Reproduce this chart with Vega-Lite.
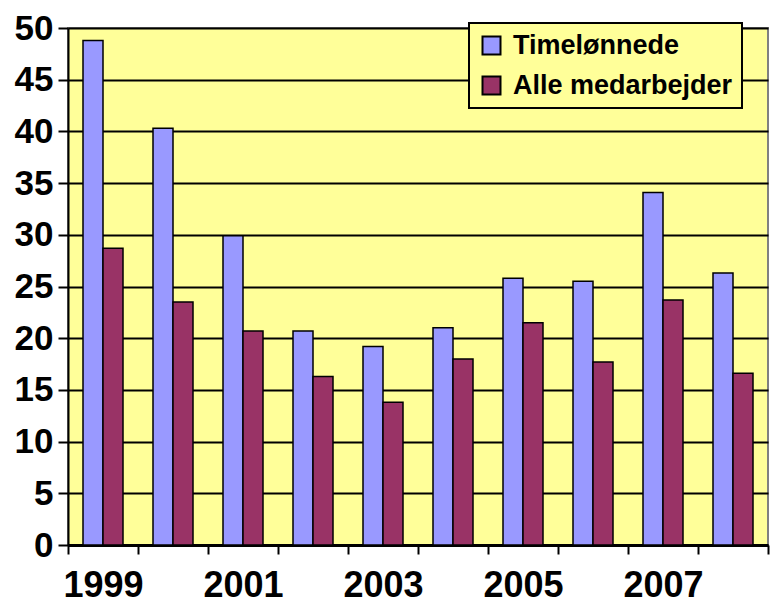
{
  "$schema": "https://vega.github.io/schema/vega-lite/v6.json",
  "width": 700,
  "height": 517,
  "autosize": {"type": "none"},
  "padding": {"left": 68, "top": 28, "right": 3, "bottom": 58},
  "background": "white",
  "config": {
    "font": "Liberation Sans",
    "view": {"fill": "#FFFF99", "stroke": "#808080", "strokeWidth": 2}
  },
  "data": {
    "values": [
      {"year": "1999", "series": "Timelønnede", "value": 48.8},
      {"year": "1999", "series": "Alle medarbejder", "value": 28.7},
      {"year": "2000", "series": "Timelønnede", "value": 40.3},
      {"year": "2000", "series": "Alle medarbejder", "value": 23.5},
      {"year": "2001", "series": "Timelønnede", "value": 29.9},
      {"year": "2001", "series": "Alle medarbejder", "value": 20.7},
      {"year": "2002", "series": "Timelønnede", "value": 20.7},
      {"year": "2002", "series": "Alle medarbejder", "value": 16.3},
      {"year": "2003", "series": "Timelønnede", "value": 19.2},
      {"year": "2003", "series": "Alle medarbejder", "value": 13.8},
      {"year": "2004", "series": "Timelønnede", "value": 21.0},
      {"year": "2004", "series": "Alle medarbejder", "value": 18.0},
      {"year": "2005", "series": "Timelønnede", "value": 25.8},
      {"year": "2005", "series": "Alle medarbejder", "value": 21.5},
      {"year": "2006", "series": "Timelønnede", "value": 25.5},
      {"year": "2006", "series": "Alle medarbejder", "value": 17.7},
      {"year": "2007", "series": "Timelønnede", "value": 34.1},
      {"year": "2007", "series": "Alle medarbejder", "value": 23.7},
      {"year": "2008", "series": "Timelønnede", "value": 26.3},
      {"year": "2008", "series": "Alle medarbejder", "value": 16.6}
    ]
  },
  "mark": {"type": "bar", "stroke": "black", "strokeWidth": 1.5},
  "encoding": {
    "x": {
      "field": "year",
      "type": "ordinal",
      "title": null,
      "scale": {"paddingInner": 0, "paddingOuter": 0},
      "axis": {
        "labelAngle": 0,
        "labelExpr": "indexof(['1999','2001','2003','2005','2007'], datum.label) >= 0 ? datum.label : ''",
        "labelFontSize": 36,
        "labelFontWeight": "bold",
        "labelColor": "black",
        "labelPadding": 14,
        "tickBand": "extent",
        "tickSize": 9,
        "tickColor": "black",
        "tickWidth": 2,
        "domainColor": "black",
        "domainWidth": 3,
        "grid": false
      }
    },
    "xOffset": {"field": "series", "type": "nominal", "sort": ["Timelønnede", "Alle medarbejder"], "scale": {"paddingInner": 0, "paddingOuter": 0.75}},
    "y": {
      "field": "value",
      "type": "quantitative",
      "title": null,
      "scale": {"domain": [0, 50], "nice": false},
      "axis": {
        "values": [0, 5, 10, 15, 20, 25, 30, 35, 40, 45, 50],
        "labelFontSize": 35,
        "labelFontWeight": "bold",
        "labelColor": "black",
        "labelPadding": 5,
        "tickSize": 10,
        "tickColor": "black",
        "tickWidth": 2,
        "domainColor": "black",
        "domainWidth": 2,
        "gridColor": "black",
        "gridWidth": 2,
        "gridOpacity": 1
      }
    },
    "color": {
      "field": "series",
      "type": "nominal",
      "scale": {"domain": ["Timelønnede", "Alle medarbejder"], "range": ["#9999FF", "#993366"]},
      "legend": {
        "title": null,
        "orient": "none",
        "legendX": 401,
        "legendY": -5,
        "fillColor": "#FFFF99",
        "strokeColor": "black",
        "padding": 9,
        "rowPadding": 12,
        "symbolType": "square",
        "symbolSize": 324,
        "symbolStrokeColor": "black",
        "symbolStrokeWidth": 2,
        "symbolOpacity": 1,
        "labelFontSize": 27,
        "labelFontWeight": "bold",
        "labelColor": "black",
        "labelOffset": 8,
        "labelLimit": 400,
        "encode": {"legend": {"update": {"strokeWidth": {"value": 2}}}}
      }
    }
  }
}
